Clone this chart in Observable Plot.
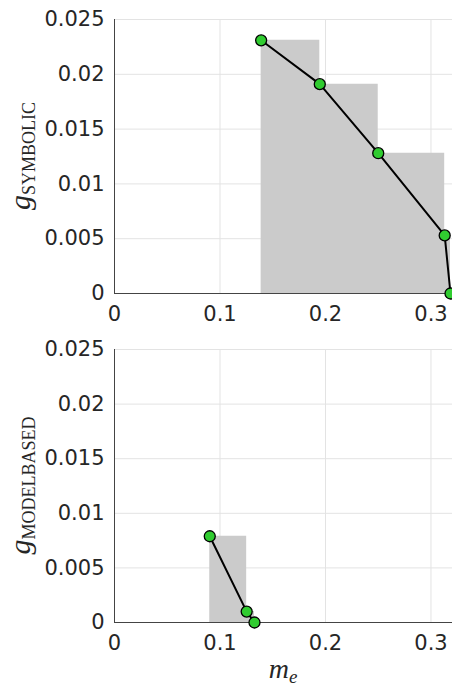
<!DOCTYPE html>
<html>
<head>
<meta charset="utf-8">
<script src="https://cdn.jsdelivr.net/npm/d3@7"></script>
<script src="https://cdn.jsdelivr.net/npm/@observablehq/plot@0.6"></script>
<style>
  html, body { margin: 0; padding: 0; background: #fff; overflow: hidden; }
  svg { display: block; }
</style>
</head>
<body>
<div id="chart"></div>
<script>
// Data
const symbolicX = [0.139, 0.1946, 0.25, 0.313, 0.3185];
const symbolicY = [0.0231, 0.0191, 0.0128, 0.0053, 0];
const modelX = [0.0903, 0.1253, 0.1327];
const modelY = [0.0079, 0.0010, 0];

const xTicks = [0, 0.1, 0.2, 0.3];
const xTickLabels = ["0", "0.1", "0.2", "0.3"];
const yTicks = [0, 0.005, 0.01, 0.015, 0.02, 0.025];
const yTickLabels = ["0", "0.005", "0.01", "0.015", "0.02", "0.025"];

const yLabelMain = "g";
const yLabelSubs = ["SYMBOLIC", "MODELBASED"];
const xLabelMain = "m";
const xLabelSub = "e";

const W = 452;
const ML = 114, MT = 19;

function panel(xs, ys, height, marginBottom, ySub, withXLabel) {
  const data = xs.map((x, i) => ({x, y: ys[i]}));
  const svg = Plot.plot({
    width: W,
    height,
    marginLeft: ML,
    marginRight: 0,
    marginTop: MT,
    marginBottom,
    style: {fontFamily: "DejaVu Sans, sans-serif", fontSize: "21px", color: "#262626", background: "#fff"},
    x: {domain: [0, 0.3204], label: null},
    y: {domain: [0, 0.025], label: null},
    marks: [
      Plot.gridX(xTicks, {stroke: "#e3e3e3", strokeOpacity: 1}),
      Plot.gridY(yTicks, {stroke: "#e3e3e3", strokeOpacity: 1}),
      Plot.ruleX([0], {stroke: "#444", strokeWidth: 1}),
      Plot.ruleY([0], {stroke: "#444", strokeWidth: 1}),
      Plot.areaY(data, {x: "x", y: "y", curve: "step-after", fill: "#cbcbcb"}),
      Plot.line(data, {x: "x", y: "y", stroke: "#000", strokeWidth: 2}),
      Plot.dot(data, {x: "x", y: "y", r: 5.5, fill: "#30cc30", stroke: "#000", strokeWidth: 1.3}),
      Plot.axisX(xTicks, {tickSize: 0, tickPadding: 13, tickFormat: (d, i) => xTickLabels[i], fill: "#262626", fontSize: 21}),
      Plot.axisY(yTicks, {tickSize: 0, tickPadding: 10, tickFormat: (d, i) => yTickLabels[i], fill: "#262626", fontSize: 21})
    ]
  });
  const s = d3.select(svg);
  const plotTop = MT, plotBottom = height - marginBottom;
  const yl = s.append("text")
    .attr("transform", `translate(30, ${(plotTop + plotBottom) / 2}) rotate(-90)`)
    .attr("text-anchor", "middle")
    .attr("fill", "#262626")
    .style("font-family", "'Liberation Serif', serif");
  yl.append("tspan").attr("font-style", "italic").attr("font-size", 30).text(yLabelMain);
  yl.append("tspan").attr("font-size", 18).attr("dy", 5).text(ySub);
  if (withXLabel) {
    const xl = s.append("text")
      .attr("x", (ML + W) / 2)
      .attr("y", 348)
      .attr("text-anchor", "middle")
      .attr("fill", "#262626")
      .style("font-family", "'Liberation Serif', serif")
      .attr("font-style", "italic");
    xl.append("tspan").attr("font-size", 28).text(xLabelMain);
    xl.append("tspan").attr("font-size", 19).attr("dy", 5).text(xLabelSub);
  }
  return svg;
}

const root = document.getElementById("chart");
root.appendChild(panel(symbolicX, symbolicY, 330, 37, yLabelSubs[0], false));
root.appendChild(panel(modelX, modelY, 358, 66, yLabelSubs[1], true));
</script>
</body>
</html>
